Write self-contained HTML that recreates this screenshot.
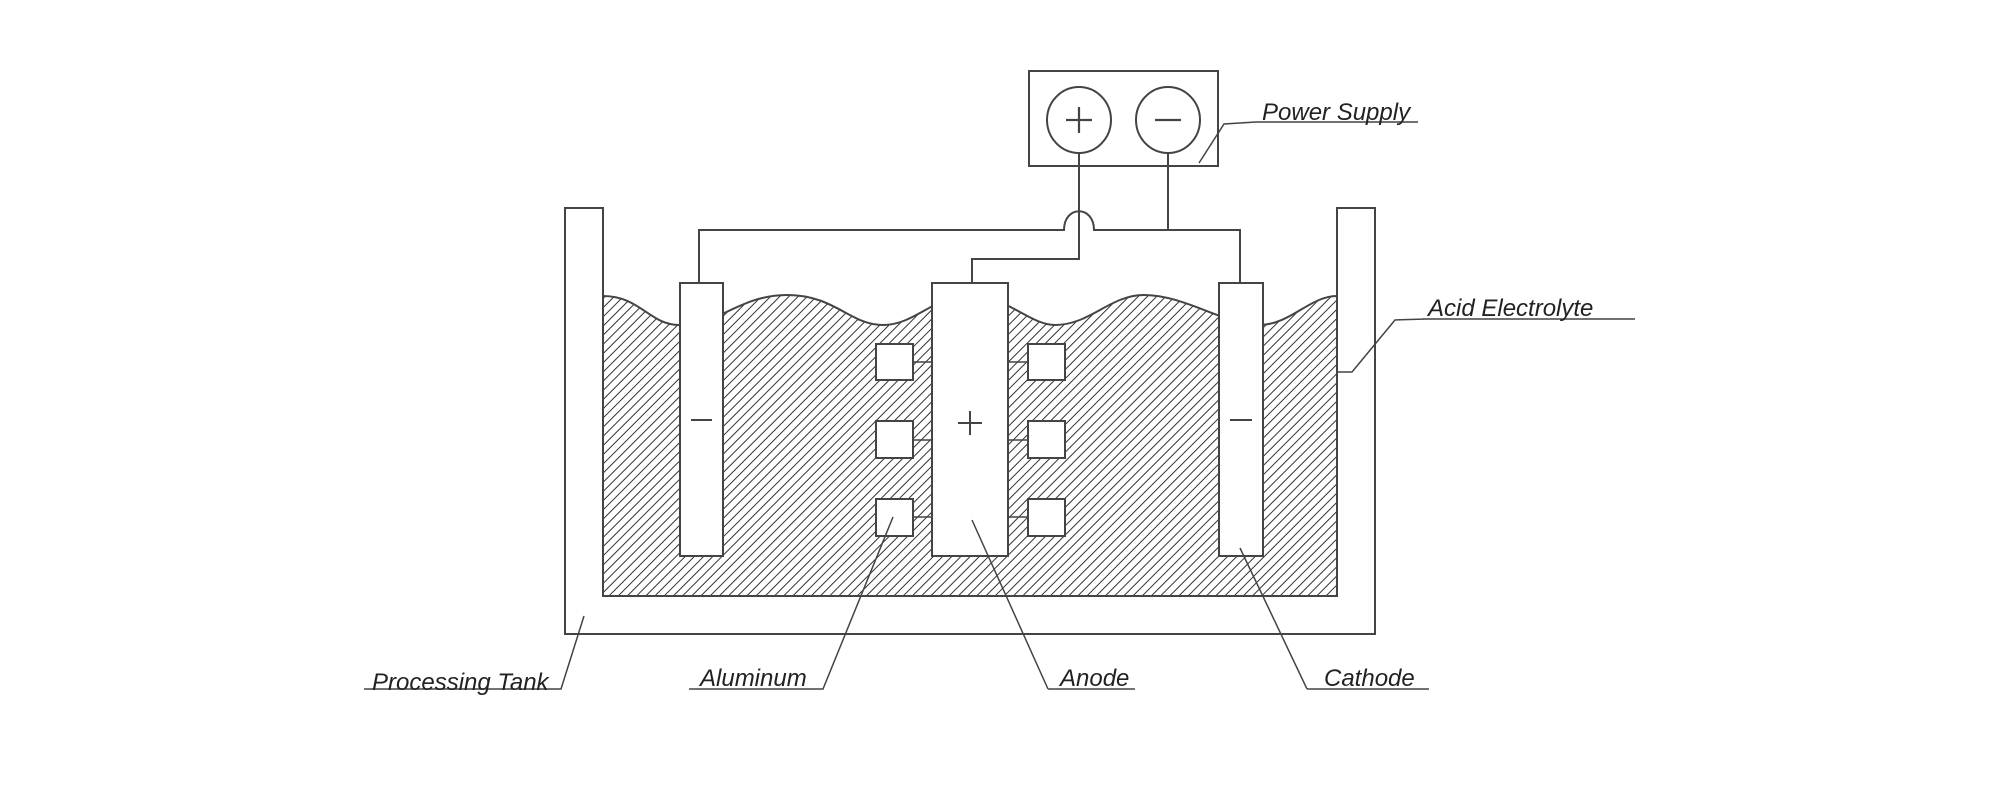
<!DOCTYPE html>
<html><head><meta charset="utf-8"><style>
html,body{margin:0;padding:0;background:#fff;}
svg{display:block;}
text{font-family:"Liberation Sans",sans-serif;font-style:italic;font-size:24px;fill:#222;}
</style></head><body>
<svg width="2000" height="790" viewBox="0 0 2000 790" xmlns="http://www.w3.org/2000/svg">
<defs>
<pattern id="h" patternUnits="userSpaceOnUse" width="6.5" height="6.5" patternTransform="rotate(45)">
<line x1="0" y1="0" x2="0" y2="6.5" stroke="#333" stroke-width="2"/>
</pattern>
</defs>
<g stroke="#444" stroke-width="2" fill="none">
<path d="M603,296 C640,296 650,325 679,325 C720,325 740,295 787,295 C835,295 850,325 883,325 C915,325 935,295 970,295 C1005,295 1030,325 1055,325 C1090,325 1110,295 1144,295 C1185,295 1225,325 1259,325 C1290,325 1310,296 1337,296 L1337,596 L603,596 Z" fill="url(#h)" stroke="#444"/>
<path d="M565,208 H603 V596 H1337 V208 H1375 V634 H565 Z" fill="#fff"/>
<rect x="680" y="283" width="43" height="273" fill="#fff"/>
<rect x="932" y="283" width="76" height="273" fill="#fff"/>
<rect x="1219" y="283" width="44" height="273" fill="#fff"/>
<rect x="876" y="344" width="37" height="36" fill="#fff"/>
<rect x="876" y="421" width="37" height="37" fill="#fff"/>
<rect x="876" y="499" width="37" height="37" fill="#fff"/>
<rect x="1028" y="344" width="37" height="36" fill="#fff"/>
<rect x="1028" y="421" width="37" height="37" fill="#fff"/>
<rect x="1028" y="499" width="37" height="37" fill="#fff"/>
<path d="M913,362 H932 M913,440 H932 M913,517 H932 M1008,362 H1028 M1008,440 H1028 M1008,517 H1028" stroke-width="1.5"/>
<path d="M691,420 H712 M1230,420 H1252 M958,423 H982 M970,411 V435" stroke-width="2"/>
<rect x="1029" y="71" width="189" height="95" fill="#fff"/>
<ellipse cx="1079" cy="120" rx="32" ry="33"/>
<ellipse cx="1168" cy="120" rx="32" ry="33"/>
<path d="M1066,120 H1092 M1079,107 V133 M1155,120 H1181" stroke-width="2.2"/>
<path d="M1079,153 V259 H972 V283"/>
<path d="M1168,153 V230"/>
<path d="M699,283 V230 H1064 C1064,205 1094,205 1094,230 H1240 V283"/>
<path d="M1256,122 H1418 M1256,122 L1224,124 L1199,163" stroke-width="1.5"/>
<path d="M1422,319 H1635 M1426,319 L1395,320 L1352,372 H1337" stroke-width="1.5"/>
<path d="M364,689 H561 L584,616" stroke-width="1.5"/>
<path d="M689,689 H823 L893,517" stroke-width="1.5"/>
<path d="M1048,689 H1135 M1048,689 L972,520" stroke-width="1.5"/>
<path d="M1307,689 H1429 M1307,689 L1240,548" stroke-width="1.5"/>
</g>
<text x="1262" y="120">Power Supply</text>
<text x="1428" y="316">Acid Electrolyte</text>
<text x="372" y="690">Processing Tank</text>
<text x="700" y="686">Aluminum</text>
<text x="1060" y="686">Anode</text>
<text x="1324" y="686">Cathode</text>
</svg>
</body></html>
